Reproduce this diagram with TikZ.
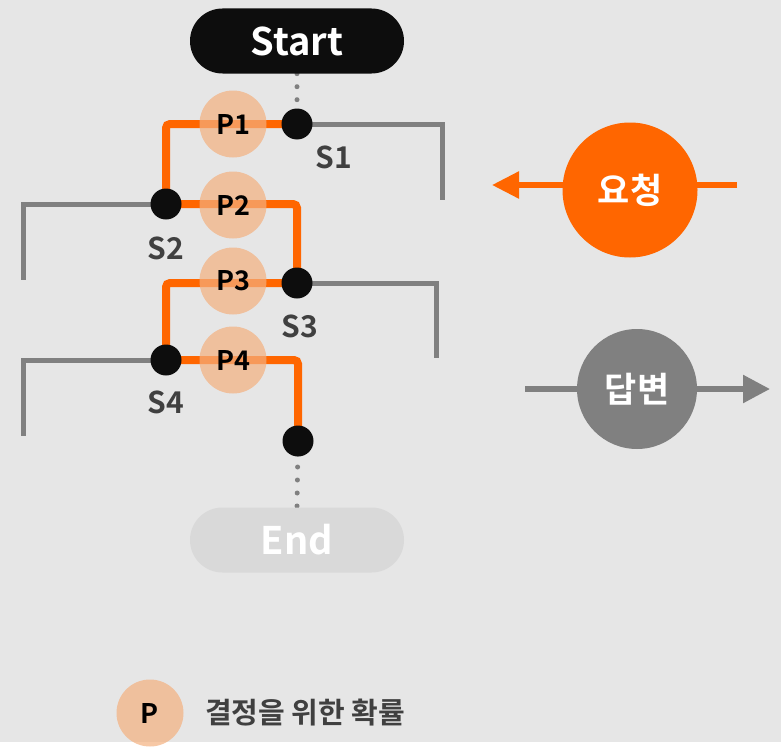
\documentclass[tikz,border=0pt]{standalone}
\usepackage{fontspec}
\setmainfont{Noto Sans CJK KR}[BoldFont={Noto Sans CJK KR Bold}]
\usepackage{tikz}
\usetikzlibrary{arrows.meta,backgrounds}
\definecolor{lgback}{HTML}{E6E6E6}
\definecolor{lgorange}{HTML}{FF6600}
\definecolor{lggray}{HTML}{808080}
\definecolor{lgpeach}{HTML}{F4B07F}
\definecolor{lgtext}{HTML}{404040}
\definecolor{lgblack}{HTML}{0D0D0D}
\definecolor{lgpale}{HTML}{D9D9D9}
\tikzset{
  pillnode/.style={rectangle,rounded corners=32.5pt,minimum width=214pt,minimum height=65pt,inner sep=0pt,font=\fontsize{38}{42}\selectfont\bfseries},
  startnode/.style={pillnode,fill=lgblack,text=white},
  endnode/.style={pillnode,fill=lgpale,text=white},
  statenode/.style={circle,fill=lgblack,minimum size=31pt,inner sep=0pt},
  probnode/.style={circle,fill=lgpeach,fill opacity=0.7,text opacity=1,text=black,minimum size=67pt,inner sep=0pt,font=\fontsize{27}{30}\selectfont\bfseries},
  slabel/.style={text=lgtext,inner sep=0pt,font=\fontsize{30}{33}\selectfont\bfseries},
  reqnode/.style={circle,fill=lgorange,text=white,minimum size=135pt,inner sep=0pt,font=\fontsize{35}{40}\selectfont\bfseries},
  ansnode/.style={circle,fill=lggray,text=white,minimum size=120pt,inner sep=0pt,font=\fontsize{35}{40}\selectfont\bfseries},
  legtext/.style={text=lgtext,anchor=west,inner sep=0pt,font=\fontsize{29}{32}\selectfont\bfseries},
  pathedge/.style={lgorange,line width=8pt,rounded corners=4pt},
  sideedge/.style={lggray,line width=5pt},
  dotedge/.style={lggray,line width=5pt,line cap=round,dash pattern=on 0pt off 13pt},
  reqedge/.style={lgorange,line width=5.5pt,-{Triangle[length=27pt,width=26pt]}},
  ansedge/.style={lggray,line width=5.5pt,-{Triangle[length=27pt,width=27pt]}},
}

\begin{document}
\begin{tikzpicture}[x=1pt,y=-1pt]
  \node[startnode] (nstart) at (297,41) {Start};
  \node[endnode] (nend) at (297,540) {End};
  \node[statenode] (s1) at (297,124) {};
  \node[statenode] (s2) at (166,204) {};
  \node[statenode] (s3) at (297,283) {};
  \node[statenode] (s4) at (166,360) {};
  \node[statenode] (sfin) at (298,441) {};
  \coordinate (s1end) at (442,200);
  \coordinate (s2end) at (23,280);
  \coordinate (s3end) at (436,358);
  \coordinate (s4end) at (23,436);
  \begin{scope}[on background layer]
    \fill[lgback] (0,0) rectangle (781,742);
    \draw[dotedge] (nstart.south) -- (s1.center);
    \draw[dotedge] (sfin.center) -- (nend.north);
    \draw[sideedge] (s1.center) -| (s1end);
    \draw[sideedge] (s2.center) -| (s2end);
    \draw[sideedge] (s3.center) -| (s3end);
    \draw[sideedge] (s4.center) -| (s4end);
    \draw[pathedge] (s1.center) -| (s2.center);
    \draw[pathedge] (s2.center) -| (s3.center);
    \draw[pathedge] (s3.center) -| (s4.center);
    \draw[pathedge] (s4.center) -| (sfin.center);
  \end{scope}
  \node[probnode] (p1) at (233,124) {P1};
  \node[probnode] (p2) at (233,205) {P2};
  \node[probnode] (p3) at (233,281) {P3};
  \node[probnode] (p4) at (233,360) {P4};
  \node[slabel] (s1lab) at (334,157) {S1};
  \node[slabel] (s2lab) at (166,248) {S2};
  \node[slabel] (s3lab) at (300,326) {S3};
  \node[slabel] (s4lab) at (166,402) {S4};
  \coordinate (reqfrom) at (737,185);
  \coordinate (reqto) at (492,185);
  \coordinate (ansfrom) at (525,389);
  \coordinate (ansto) at (770,389);
  \draw[reqedge] (reqfrom) -- (reqto);
  \draw[ansedge] (ansfrom) -- (ansto);
  \node[reqnode] (req) at (630,190) {요청};
  \node[ansnode] (ans) at (637,389) {답변};
  \node[probnode] (plegend) at (150,713) {P};
  \node[legtext] (legtxt) at (205,713) {결정을 위한 확률};
\end{tikzpicture}
\end{document}
